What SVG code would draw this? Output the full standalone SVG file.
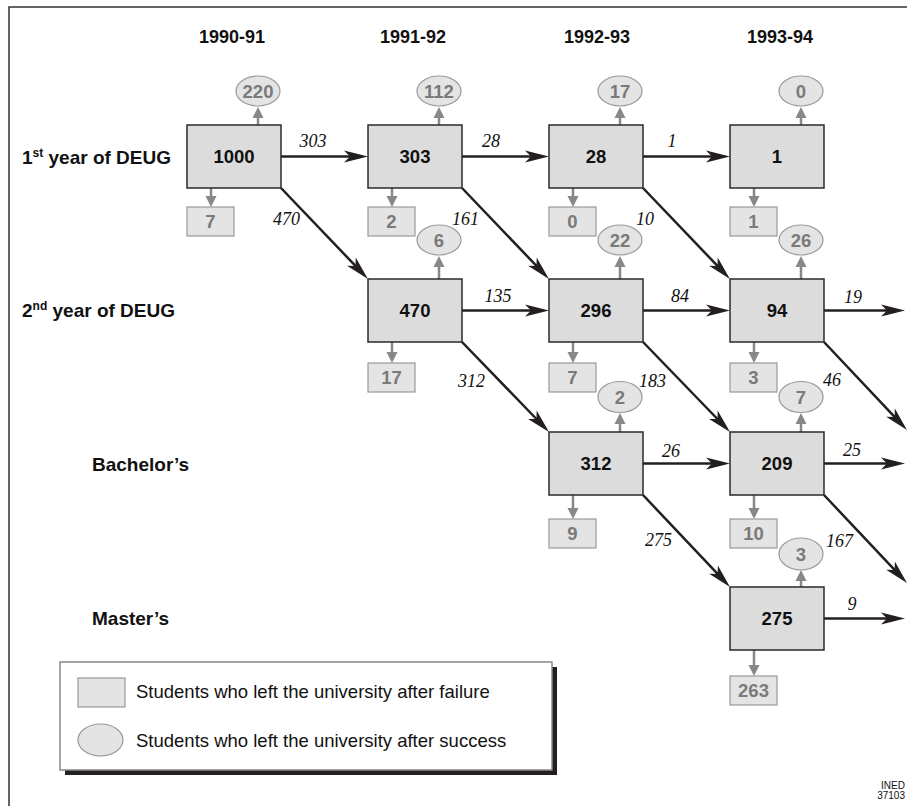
<svg xmlns="http://www.w3.org/2000/svg" width="907" height="806" viewBox="0 0 907 806">
<style>
.hdr{font-family:"Liberation Sans",Arial,sans-serif;font-weight:bold;font-size:18px;fill:#111;text-anchor:middle}
.row{font-family:"Liberation Sans",Arial,sans-serif;font-weight:bold;font-size:19px;fill:#111}
.sup{font-size:12px}
.main{fill:#dcdcdc;stroke:#2a2a2a;stroke-width:1.5}
.mnum{font-family:"Liberation Sans",Arial,sans-serif;font-weight:bold;font-size:18.5px;fill:#111;text-anchor:middle}
.fail{fill:#e4e4e4;stroke:#999;stroke-width:1.2}
.succ{fill:#e4e4e4;stroke:#999;stroke-width:1.2}
.gnum{font-family:"Liberation Sans",Arial,sans-serif;font-weight:bold;font-size:18.5px;fill:#7a7a7a;text-anchor:middle}
.flow{stroke:#231f20;stroke-width:2.5;fill:none;marker-end:url(#ah)}
.leave{stroke:#888;stroke-width:2.5;fill:none;marker-end:url(#gh)}
.lab{font-family:"Liberation Serif","Times New Roman",serif;font-style:italic;font-size:18px;fill:#111}
.legt{font-family:"Liberation Sans",Arial,sans-serif;font-size:18.5px;fill:#111}
</style>
<defs>
<marker id="ah" markerUnits="userSpaceOnUse" markerWidth="26" markerHeight="14" refX="8" refY="7" orient="auto" overflow="visible"><path d="M0,1 L24,7 L0,13 L6,7 z" fill="#231f20"/></marker>
<marker id="gh" markerUnits="userSpaceOnUse" markerWidth="12" markerHeight="12" refX="2" refY="5" orient="auto" overflow="visible"><path d="M0,-0.5 L11,5 L0,10.5 z" fill="#888"/></marker>
</defs>
<rect width="907" height="806" fill="#fff"/>
<path d="M9,806 V7 H907" fill="none" stroke="#333" stroke-width="1.5"/>

<g id="headers">
<text class="hdr" x="232" y="43">1990-91</text>
<text class="hdr" x="413" y="43">1991-92</text>
<text class="hdr" x="597" y="43">1992-93</text>
<text class="hdr" x="780" y="43">1993-94</text>
</g>
<g id="rowlabels">
<text class="row" x="22" y="164">1<tspan class="sup" dy="-7">st</tspan><tspan dy="7"> year of DEUG</tspan></text>
<text class="row" x="22" y="317">2<tspan class="sup" dy="-7">nd</tspan><tspan dy="7"> year of DEUG</tspan></text>
<text class="row" x="92" y="471">Bachelor’s</text>
<text class="row" x="92" y="625">Master’s</text>
</g>

<g id="connectors">
<line class="leave" x1="258" y1="125" x2="258" y2="116"/>
<line class="leave" x1="439" y1="125" x2="439" y2="116"/>
<line class="leave" x1="620" y1="125" x2="620" y2="116"/>
<line class="leave" x1="801" y1="125" x2="801" y2="116"/>
<line class="leave" x1="439" y1="279" x2="439" y2="265"/>
<line class="leave" x1="620" y1="279" x2="620" y2="265"/>
<line class="leave" x1="801" y1="279" x2="801" y2="265"/>
<line class="leave" x1="620" y1="432" x2="620" y2="422"/>
<line class="leave" x1="801" y1="432" x2="801" y2="422"/>
<line class="leave" x1="801" y1="587" x2="801" y2="579"/>
<line class="leave" x1="211" y1="188" x2="211" y2="198"/>
<line class="leave" x1="392" y1="188" x2="392" y2="198"/>
<line class="leave" x1="573" y1="188" x2="573" y2="198"/>
<line class="leave" x1="754" y1="188" x2="754" y2="198"/>
<line class="leave" x1="392" y1="342" x2="392" y2="354"/>
<line class="leave" x1="573" y1="342" x2="573" y2="354"/>
<line class="leave" x1="754" y1="342" x2="754" y2="354"/>
<line class="leave" x1="573" y1="495" x2="573" y2="510"/>
<line class="leave" x1="754" y1="495" x2="754" y2="510"/>
<line class="leave" x1="754" y1="650" x2="754" y2="667"/>
<line class="flow" x1="281" y1="156.5" x2="352" y2="156.5"/>
<line class="flow" x1="462" y1="156.5" x2="533" y2="156.5"/>
<line class="flow" x1="643" y1="156.5" x2="714" y2="156.5"/>
<line class="flow" x1="462" y1="310.5" x2="533" y2="310.5"/>
<line class="flow" x1="643" y1="310.5" x2="714" y2="310.5"/>
<line class="flow" x1="824" y1="310.5" x2="889" y2="310.5"/>
<line class="flow" x1="643" y1="463.5" x2="714" y2="463.5"/>
<line class="flow" x1="824" y1="463.5" x2="889" y2="463.5"/>
<line class="flow" x1="824" y1="618.5" x2="889" y2="618.5"/>
<line class="flow" x1="281" y1="188" x2="356.9" y2="267.4"/>
<line class="flow" x1="462" y1="188" x2="537.9" y2="267.4"/>
<line class="flow" x1="643" y1="188" x2="718.9" y2="267.4"/>
<line class="flow" x1="462" y1="342" x2="537.9" y2="420.5"/>
<line class="flow" x1="643" y1="342" x2="718.9" y2="420.5"/>
<line class="flow" x1="824" y1="342" x2="896" y2="418.4"/>
<line class="flow" x1="643" y1="495" x2="719" y2="575.4"/>
<line class="flow" x1="824" y1="495" x2="896" y2="571.4"/>
<text class="lab" x="313" y="147" text-anchor="middle">303</text>
<text class="lab" x="491" y="147" text-anchor="middle">28</text>
<text class="lab" x="672" y="147" text-anchor="middle">1</text>
<text class="lab" x="498" y="302" text-anchor="middle">135</text>
<text class="lab" x="680" y="302" text-anchor="middle">84</text>
<text class="lab" x="853" y="303" text-anchor="middle">19</text>
<text class="lab" x="671" y="457" text-anchor="middle">26</text>
<text class="lab" x="852" y="456" text-anchor="middle">25</text>
<text class="lab" x="852" y="610" text-anchor="middle">9</text>
<text class="lab" x="273" y="225">470</text>
<text class="lab" x="452" y="225">161</text>
<text class="lab" x="636" y="225">10</text>
<text class="lab" x="458" y="387">312</text>
<text class="lab" x="639" y="387">183</text>
<text class="lab" x="823" y="386">46</text>
<text class="lab" x="645" y="546">275</text>
<text class="lab" x="826" y="547">167</text>
</g>

<g id="n1000"><rect class="main" x="187" y="125" width="94" height="63"/><text class="mnum" x="234" y="163">1000</text></g>
<g id="s220"><ellipse class="succ" cx="258" cy="91" rx="22" ry="15"/><text class="gnum" x="258" y="97.5">220</text></g>
<g id="f7a"><rect class="fail" x="187" y="207" width="47" height="29"/><text class="gnum" x="210.5" y="228">7</text></g>

<g id="n303"><rect class="main" x="368" y="125" width="94" height="63"/><text class="mnum" x="415" y="163">303</text></g>
<g id="s112"><ellipse class="succ" cx="439" cy="91" rx="22" ry="15"/><text class="gnum" x="439" y="97.5">112</text></g>
<g id="f2"><rect class="fail" x="368" y="207" width="47" height="29"/><text class="gnum" x="391.5" y="228">2</text></g>

<g id="n28"><rect class="main" x="549" y="125" width="94" height="63"/><text class="mnum" x="596" y="163">28</text></g>
<g id="s17"><ellipse class="succ" cx="620" cy="91" rx="22" ry="15"/><text class="gnum" x="620" y="97.5">17</text></g>
<g id="f0"><rect class="fail" x="549" y="207" width="47" height="29"/><text class="gnum" x="572.5" y="228">0</text></g>

<g id="n1"><rect class="main" x="730" y="125" width="94" height="63"/><text class="mnum" x="777" y="163">1</text></g>
<g id="s0"><ellipse class="succ" cx="801" cy="91" rx="22" ry="15"/><text class="gnum" x="801" y="97.5">0</text></g>
<g id="f1"><rect class="fail" x="730" y="207" width="47" height="29"/><text class="gnum" x="753.5" y="228">1</text></g>

<g id="n470"><rect class="main" x="368" y="279" width="94" height="63"/><text class="mnum" x="415" y="317">470</text></g>
<g id="s6"><ellipse class="succ" cx="439" cy="240" rx="22" ry="15"/><text class="gnum" x="439" y="246.5">6</text></g>
<g id="f17"><rect class="fail" x="368" y="363" width="47" height="29"/><text class="gnum" x="391.5" y="384">17</text></g>

<g id="n296"><rect class="main" x="549" y="279" width="94" height="63"/><text class="mnum" x="596" y="317">296</text></g>
<g id="s22"><ellipse class="succ" cx="620" cy="240" rx="22" ry="15"/><text class="gnum" x="620" y="246.5">22</text></g>
<g id="f7b"><rect class="fail" x="549" y="363" width="47" height="29"/><text class="gnum" x="572.5" y="384">7</text></g>

<g id="n94"><rect class="main" x="730" y="279" width="94" height="63"/><text class="mnum" x="777" y="317">94</text></g>
<g id="s26"><ellipse class="succ" cx="801" cy="240" rx="22" ry="15"/><text class="gnum" x="801" y="246.5">26</text></g>
<g id="f3"><rect class="fail" x="730" y="363" width="47" height="29"/><text class="gnum" x="753.5" y="384">3</text></g>

<g id="n312"><rect class="main" x="549" y="432" width="94" height="63"/><text class="mnum" x="596" y="470">312</text></g>
<g id="s2"><ellipse class="succ" cx="620" cy="397" rx="22" ry="15.5"/><text class="gnum" x="620" y="403.5">2</text></g>
<g id="f9"><rect class="fail" x="549" y="519" width="47" height="29"/><text class="gnum" x="572.5" y="540">9</text></g>

<g id="n209"><rect class="main" x="730" y="432" width="94" height="63"/><text class="mnum" x="777" y="470">209</text></g>
<g id="s7"><ellipse class="succ" cx="801" cy="397" rx="22" ry="15.5"/><text class="gnum" x="801" y="403.5">7</text></g>
<g id="f10"><rect class="fail" x="730" y="519" width="47" height="29"/><text class="gnum" x="753.5" y="540">10</text></g>

<g id="n275"><rect class="main" x="730" y="587" width="94" height="63"/><text class="mnum" x="777" y="625">275</text></g>
<g id="s3"><ellipse class="succ" cx="801" cy="554" rx="22" ry="16"/><text class="gnum" x="801" y="560.5">3</text></g>
<g id="f263"><rect class="fail" x="730" y="676" width="47" height="29"/><text class="gnum" x="753.5" y="697">263</text></g>

<g id="legend">
<rect x="65" y="667" width="492" height="108" fill="#231f20"/>
<rect x="60" y="662" width="492" height="108" fill="#fff" stroke="#888" stroke-width="1.5"/>
<rect class="fail" x="78" y="678" width="47" height="29"/>
<text class="legt" x="136" y="698">Students who left the university after failure</text>
<ellipse class="succ" cx="100.5" cy="740" rx="22.5" ry="16"/>
<text class="legt" x="136" y="747">Students who left the university after success</text>
</g>

<g id="credit">
<text x="905" y="789" text-anchor="end" font-family="Liberation Sans,Arial,sans-serif" font-size="10" fill="#111">INED</text>
<text x="905" y="799" text-anchor="end" font-family="Liberation Sans,Arial,sans-serif" font-size="10" fill="#111">37103</text>
</g>
</svg>
